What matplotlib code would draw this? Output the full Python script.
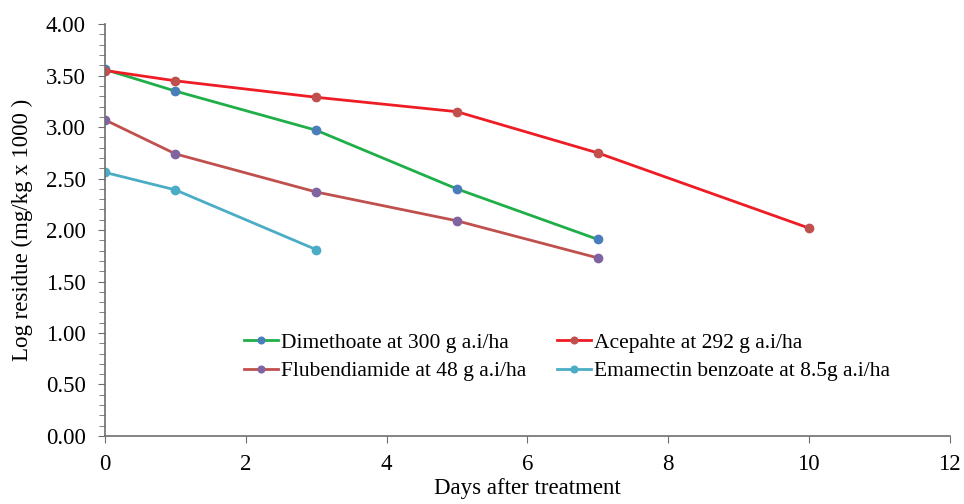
import matplotlib.pyplot as plt
from matplotlib.ticker import MultipleLocator

plt.rcParams["font.family"] = ["Liberation Serif", "DejaVu Serif"]

# Residue data (log residue, mg/kg x 1000)
days_dimethoate = [0, 1, 3, 5, 7]
dimethoate = [3.56, 3.35, 2.97, 2.40, 1.91]

days_acephate = [0, 1, 3, 5, 7, 10]
acephate = [3.55, 3.45, 3.29, 3.15, 2.75, 2.02]

days_flubendiamide = [0, 1, 3, 5, 7]
flubendiamide = [3.07, 2.74, 2.37, 2.09, 1.73]

days_emamectin = [0, 1, 3]
emamectin = [2.56, 2.39, 1.81]

labels = [
    "Dimethoate at 300 g a.i/ha",
    "Acepahte at 292 g a.i/ha",
    "Flubendiamide at 48 g a.i/ha",
    "Emamectin benzoate at 8.5g a.i/ha",
]

fig = plt.figure(figsize=(9.64, 5.04), dpi=100)
ax = fig.add_axes([0.109, 0.135, 0.876, 0.817])

h1, = ax.plot(days_dimethoate, dimethoate, color="#1fae48", lw=2.0,
              marker="o", ms=6, mfc="#4a7ebb", mec="#4a7ebb", label=labels[0])
h2, = ax.plot(days_acephate, acephate, color="#ee1c24", lw=2.0,
              marker="o", ms=6, mfc="#c0504d", mec="#c0504d", label=labels[1])
h3, = ax.plot(days_flubendiamide, flubendiamide, color="#c0504d", lw=2.0,
              marker="o", ms=6, mfc="#8064a2", mec="#8064a2", label=labels[2])
h4, = ax.plot(days_emamectin, emamectin, color="#4bacc6", lw=2.0,
              marker="o", ms=6, mfc="#4bacc6", mec="#4bacc6", label=labels[3])

ax.set_xlim(0, 12)
ax.set_ylim(0, 4)
ax.xaxis.set_major_locator(MultipleLocator(2))
ax.yaxis.set_major_locator(MultipleLocator(0.5))
ax.yaxis.set_minor_locator(MultipleLocator(0.1))
ax.yaxis.set_major_formatter(plt.FormatStrFormatter("%.2f"))

for side in ("top", "right"):
    ax.spines[side].set_visible(False)
for side in ("left", "bottom"):
    ax.spines[side].set_color("#6e6e6e")
    ax.spines[side].set_linewidth(1.2)

ax.tick_params(axis="both", which="major", direction="out", length=5,
               color="#6e6e6e", labelsize=16.5)
ax.tick_params(axis="x", which="major", pad=8)
ax.tick_params(axis="y", which="major", pad=9)
ax.tick_params(axis="y", which="minor", direction="out", length=4,
               color="#6e6e6e")

ax.set_xlabel("Days after treatment", fontsize=16.5, labelpad=2)
ax.set_ylabel("Log residue (mg/kg x 1000 )", fontsize=16.5, labelpad=9)

# row-major order like the reference: matplotlib fills legend columns first
ax.legend([h1, h3, h2, h4], [labels[0], labels[2], labels[1], labels[3]],
          ncol=2, loc="upper left", bbox_to_anchor=(0.141, 0.298),
          frameon=False, fontsize=15.5, handlelength=1.6, handletextpad=0.15,
          columnspacing=1.4, labelspacing=0.4, markerscale=0.8)

fig.savefig("out.png", dpi=100)
